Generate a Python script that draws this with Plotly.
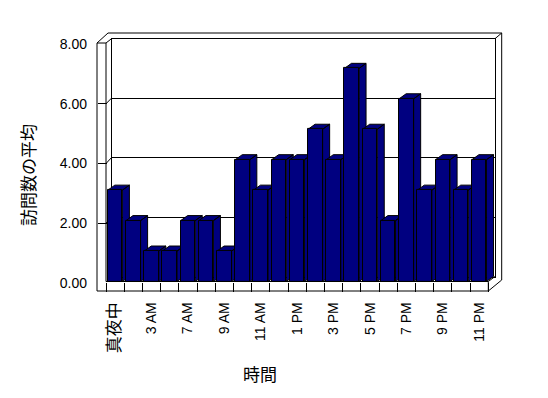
import plotly.graph_objects as go

# ---------------- data ----------------
hours = ["真夜中", "1 AM", "3 AM", "5 AM", "7 AM", "8 AM", "9 AM", "10 AM", "11 AM",
         "12 PM", "1 PM", "2 PM", "3 PM", "4 PM", "5 PM", "6 PM", "7 PM", "8 PM",
         "9 PM", "10 PM", "11 PM"]
visits = [3, 2, 1, 1, 2, 2, 1, 4, 3, 4, 4, 5, 4, 7, 5, 2, 6, 3, 4, 3, 4]
y_tickvals = [0, 2, 4, 6, 8]
y_ticktext = ["0.00", "2.00", "4.00", "6.00", "8.00"]
x_title = "時間"
y_title = "訪問数の平均"

# ---------------- geometry / style ----------------
W, H = 548, 398
def px(x):
    return x / W
def py(y):
    return 1 - y / H

NAVY = "#000080"
FONT = "Liberation Sans, Noto Sans CJK JP"

n = len(hours)
idx = list(range(n))
BAR_W = 0.8
DX = 0.385   # depth offset (category units)
DY = 0.165   # depth offset (value units)

FRONT_L, FRONT_R = 106.0, 488.3
step = (FRONT_R - FRONT_L) / n
X_MAX = n - 0.5 + 0.6
EXT_R = FRONT_L + (X_MAX + 0.5) * step
BAR_BOTTOM = 281.5
BAR_TOP = BAR_BOTTOM - 8 * 30.45

fig = go.Figure()

# dummy traces so the helper subplots exist
fig.add_trace(go.Scatter(x=[None], y=[None], xaxis="x", yaxis="y",
                         showlegend=False, hoverinfo="skip"))
fig.add_trace(go.Scatter(x=[None], y=[None], xaxis="x4", yaxis="y4",
                         showlegend=False, hoverinfo="skip"))

# 3D side / top faces
for i, v in enumerate(visits):
    l = i - BAR_W / 2
    r = i + BAR_W / 2
    xs = [l, r, r + DX, l + DX, l, None, r, r + DX, r + DX, r, r]
    ys = [v, v, v + DY, v + DY, v, None, v, v + DY, DY, 0, v]
    fig.add_trace(go.Scatter(x=xs, y=ys, mode="lines", fill="toself",
                             fillcolor=NAVY, line=dict(color="black", width=1),
                             xaxis="x2", yaxis="y2", showlegend=False,
                             hoverinfo="skip"))

# front faces
fig.add_trace(go.Bar(x=idx, y=visits, width=BAR_W,
                     marker=dict(color=NAVY, line=dict(color="black", width=1)),
                     xaxis="x3", yaxis="y3", showlegend=False,
                     hovertext=hours))

# ---------------- frame shapes ----------------
frame = [
    ((97, 43), (97, 291)),
    ((FRONT_L, 43), (FRONT_L, BAR_BOTTOM)),
    ((97, 43), (FRONT_L, 43)),
    ((97, 43), (108, 33)),
    ((FRONT_L, 43), (111.5, 38.7)),
    ((108, 33), (501.7, 33)),
    ((495, 38.7), (501.7, 33)),
    ((501.7, 33), (501.7, 280)),
    ((488.3, 291), (501.7, 280)),
    ((97, 291), (488.3, 291)),
    ((FRONT_L, BAR_BOTTOM), (488.3, BAR_BOTTOM)),
    ((488.3, BAR_BOTTOM), (488.3, 291)),
    ((488.3, BAR_BOTTOM), (495, 276.5)),
]
shapes = []
for (x0, y0), (x1, y1) in frame:
    shapes.append(dict(type="line", xref="paper", yref="paper",
                       x0=px(x0), y0=py(y0), x1=px(x1), y1=py(y1),
                       line=dict(color="black", width=1), layer="above"))
for v in y_tickvals[1:-1]:
    yf = 283 - v * (283 - 44) / 8
    yb = 276.5 - v * (276.5 - 38.7) / 8
    shapes.append(dict(type="line", xref="paper", yref="paper",
                       x0=px(FRONT_L), y0=py(yf), x1=px(111.5), y1=py(yb),
                       line=dict(color="black", width=1), layer="below"))

tickfont = dict(family=FONT, size=14, color="black")
ticktext_x = [('<span style="font-size:17px;color:#000000">%s</span>' % h) if i == 0 else h
              for i, h in enumerate(hours)][::2]

fig.update_layout(
    template="none",
    width=W, height=H, autosize=False,
    margin=dict(l=0, r=0, t=0, b=0, pad=0, autoexpand=False),
    paper_bgcolor="white", plot_bgcolor="rgba(0,0,0,0)",
    showlegend=False, bargap=0,
    shapes=shapes,
    # back wall
    xaxis=dict(domain=[px(111.5), px(495)], range=[0, 1], anchor="y",
               automargin=False,
               showline=True, mirror=True, linecolor="black", linewidth=1,
               showgrid=False, zeroline=False, showticklabels=False, ticks=""),
    yaxis=dict(domain=[py(276.5), py(38.7)], range=[0, 8], anchor="x",
               automargin=False,
               showline=True, mirror=True, linecolor="black", linewidth=1,
               showgrid=True, gridcolor="black", gridwidth=1, dtick=2, tick0=0,
               zeroline=False, showticklabels=False, ticks=""),
    # faces + category labels
    xaxis2=dict(domain=[px(FRONT_L), px(EXT_R)], range=[-0.5, X_MAX], anchor="y2",
                automargin=False,
                tickmode="array", tickvals=idx[::2], ticktext=ticktext_x,
                tickangle=-90, ticks="", showline=False, showgrid=False,
                zeroline=False, tickfont=tickfont, ticklabelstandoff=17),
    yaxis2=dict(domain=[py(BAR_BOTTOM), py(BAR_TOP)], range=[0, 8], anchor="x2",
                automargin=False, visible=False),
    # front bars + floor dividers
    xaxis3=dict(overlaying="x2", range=[-0.5, X_MAX], anchor="y3",
                automargin=False,
                tickmode="array", tickvals=[k - 0.5 for k in range(n + 1)],
                ticks="outside", ticklen=9.5, tickcolor="black", tickwidth=1,
                showticklabels=False, showline=False, showgrid=False,
                zeroline=False),
    yaxis3=dict(overlaying="y2", range=[0, 8], anchor="x3", automargin=False,
                visible=False),
    # value labels
    xaxis4=dict(domain=[px(111.5), px(495)], range=[0, 1], anchor="y4",
                automargin=False, visible=False),
    yaxis4=dict(domain=[py(283), py(44)], range=[0, 8], anchor="free",
                position=px(97), side="left", automargin=False,
                tickmode="array", tickvals=y_tickvals, ticktext=y_ticktext,
                ticks="inside", ticklen=9, tickcolor="black", tickwidth=1,
                showline=False, showgrid=False, zeroline=False,
                tickfont=tickfont, ticklabelstandoff=10),
    annotations=[
        dict(text=y_title, xref="paper", yref="paper", x=px(30), y=py(175),
             xanchor="center", yanchor="middle", textangle=-90, showarrow=False,
             font=dict(family=FONT, size=17, color="black")),
        dict(text=x_title, xref="paper", yref="paper", x=px(260), y=py(375),
             xanchor="center", yanchor="middle", showarrow=False,
             font=dict(family=FONT, size=17, color="black")),
    ],
)

fig.write_html("out.html",
               config={"displayModeBar": False},
               post_script="document.body.style.margin='0';"
                           "document.body.style.overflow='hidden';")
